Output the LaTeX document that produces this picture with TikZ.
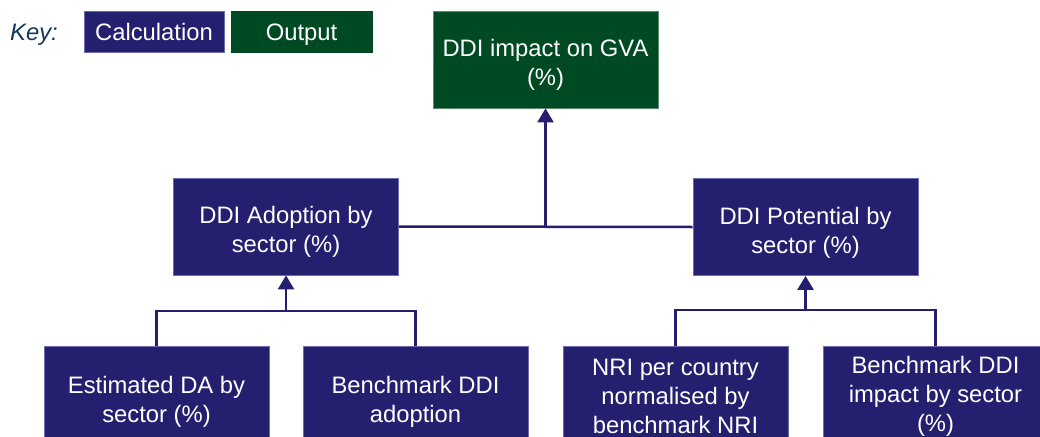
\documentclass[tikz,border=0pt]{standalone}
\usepackage{fontspec}
\setmainfont{Liberation Sans}
\usetikzlibrary{arrows.meta}

\definecolor{calcfill}{HTML}{241F6F}
\definecolor{calcedge}{HTML}{6F6CAE}
\definecolor{outfill}{HTML}{004A23}
\definecolor{outedge}{HTML}{5E8A6E}
\definecolor{linkcol}{HTML}{231F6E}
\definecolor{keycol}{HTML}{12395C}

% an empty first line of the given height pushes the text down
\newcommand\dropline[1]{\\[#1]}

\tikzset{
  boxfont/.style={font=\fontsize{23.8}{29}\selectfont},
  box/.style={rectangle, minimum width=225pt, minimum height=97pt,
    inner sep=0pt, align=center, text=white, line width=0.8pt, boxfont},
  calcbox/.style={box, fill=calcfill, draw=calcedge},
  outbox/.style={box, fill=outfill, draw=outedge},
  keybox/.style={rectangle, minimum height=41pt, inner sep=0pt, text=white,
    text height=29.5pt, text depth=11.5pt, line width=0.8pt, boxfont},
  link/.style={draw=linkcol, line width=2.5pt},
  linkarrow/.style={link, -{Triangle[width=16pt,length=14pt]}}
}

\begin{document}
\begin{tikzpicture}[x=1pt,y=-1pt]
  \useasboundingbox (0,0) rectangle (1040,436);
  \clip (0,0) rectangle (1040,436);

  % legend
  \node[text=keycol, boxfont, font=\fontsize{23.8}{29}\selectfont\itshape,
    anchor=base west, inner sep=0pt] (keylabel) at (10,41) {Key:};
  \node[keybox, fill=calcfill, draw=calcedge, minimum width=140pt]
    (keycalc) at (154,31.5) {Calculation};
  \node[keybox, fill=outfill, draw=outfill, minimum width=141pt]
    (keyout) at (301.5,31.5) {Output};

  % output
  \node[outbox] (gva) at (545.5,59.5)
    {\dropline{-2pt}DDI impact on GVA\\(\%)};

  % intermediate calculations
  \node[calcbox] (adopt) at (286,226.5)
    {\dropline{-1pt}DDI Adoption by\\sector (\%)};
  \node[calcbox] (pot) at (805.5,227)
    {\dropline{-1pt}DDI Potential by\\sector (\%)};

  % inputs
  \node[calcbox] (est) at (156.5,394.5)
    {\dropline{3pt}Estimated DA by\\sector (\%)};
  \node[calcbox] (bad) at (415.5,394.5)
    {\dropline{3pt}Benchmark DDI\\adoption};
  \node[calcbox] (nri) at (675.5,394.5)
    {\dropline{-8pt}NRI per country\\normalised by\\benchmark NRI};
  \node[calcbox] (bis) at (935.5,394.5)
    {\dropline{-8pt}Benchmark DDI\\impact by sector\\(\%)};

  % junction points
  \coordinate (jl) at (286,311);
  \coordinate (jr) at (805.5,310);
  \coordinate (jm) at (545.5,227);

  % connectors
  \draw[link] (est.north) |- (jl) -| (bad.north);
  \draw[linkarrow] (jl) -- (adopt.south);
  \draw[link] (nri.north) |- (jr) -| (bis.north);
  \draw[linkarrow] (jr) -- (pot.south);
  \draw[link] (adopt.east) -- (pot.west);
  \draw[linkarrow] (jm) -- (gva.south);
\end{tikzpicture}
\end{document}
